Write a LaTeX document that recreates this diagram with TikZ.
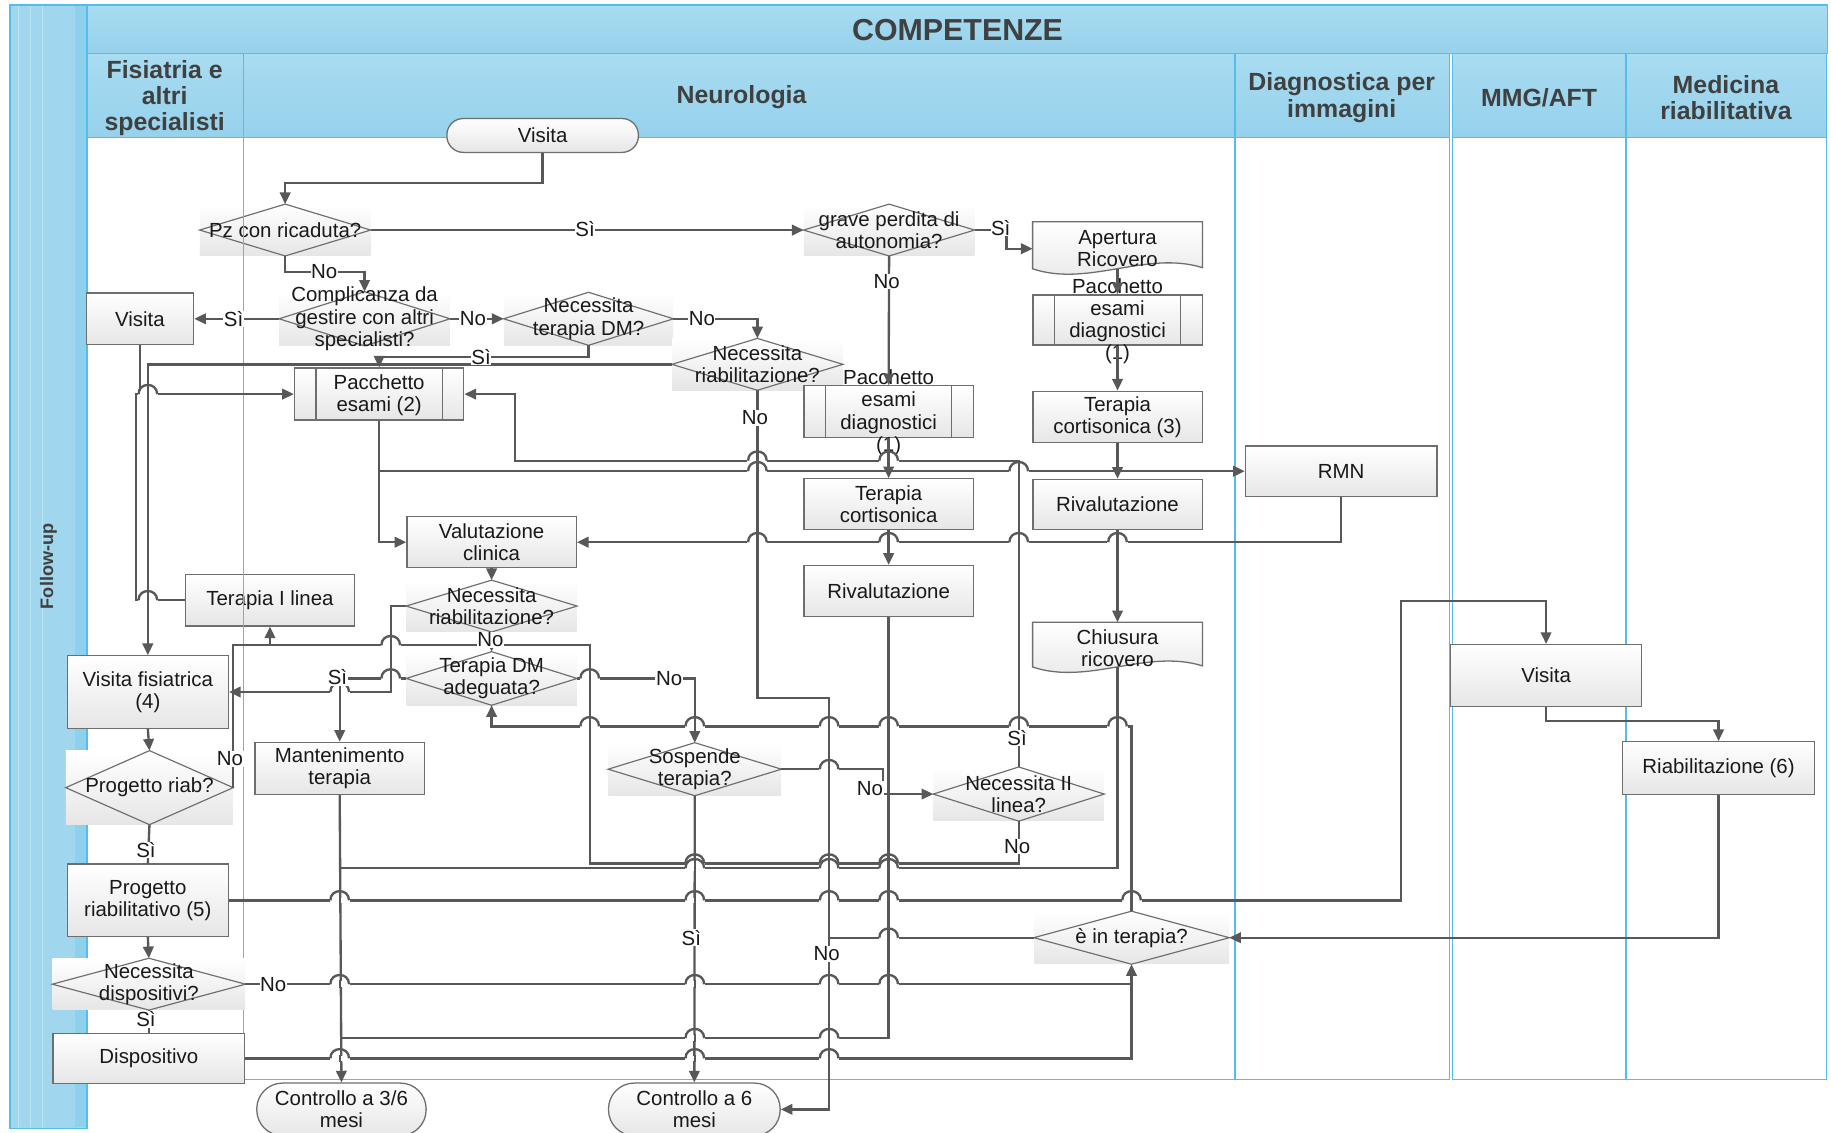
\documentclass[tikz,border=0pt]{standalone}
\usepackage{fontspec}
\setmainfont{Liberation Sans}
\usetikzlibrary{arrows.meta,calc}

\definecolor{hdrtop}{RGB}{168,220,241}
\definecolor{hdrbot}{RGB}{150,209,236}
\definecolor{stripfill}{RGB}{160,215,238}
\definecolor{laneline}{RGB}{85,190,232}
\definecolor{hdrtext}{RGB}{64,64,64}
\definecolor{nodeline}{RGB}{110,110,110}
\definecolor{nodelow}{RGB}{230,230,230}
\definecolor{conncol}{RGB}{88,88,88}
\definecolor{txt}{RGB}{25,25,25}

\newcommand\nf{\fontsize{17.5}{19}\selectfont}
\newcommand\hf{\fontsize{21.3}{22.5}\selectfont\bfseries}

\tikzset{
  box/.style={draw=nodeline, line width=1.1pt, top color=white, bottom color=nodelow,
              inner sep=0pt, align=center, font=\nf, text=txt},
  term/.style={box, rounded corners=#1},
  dbg/.style={top color=white, bottom color=nodelow, inner sep=0pt, draw=none},
  dedge/.style={draw=nodeline, line width=1pt},
  ntext/.style={align=center, font=\nf, text=txt, inner sep=0pt},
  conn/.style={draw=conncol, line width=2pt},
  arr/.style={conn, -{Triangle[length=10pt,width=9pt]}},
  lbl/.style={fill=white, inner sep=0.5pt, font=\nf, text=txt},
  lane/.style={draw=laneline, line width=1.2pt},
  hdr/.style={lane, top color=hdrtop, bottom color=hdrbot},
  hdrlbl/.style={align=center, font=\hf, text=hdrtext},
}

% decision: name, x, y, width, height, text
\newcommand\mkdecision[6]{%
  \node[dbg, minimum width=#4, minimum height=#5] (#1) at (#2,#3) {};
  \draw[dedge] (#1.west) -- (#1.north) -- (#1.east) -- (#1.south) -- cycle;
  \node[ntext] (#1-t) at (#1) {#6};
}
% predefined process: name, x, y, width, height, text
\newcommand\mkprocess[6]{%
  \node[box, minimum width=#4, minimum height=#5] (#1) at (#2,#3) {};
  \draw[dedge, line width=1.1pt] ([xshift=19pt]#1.north west) -- ([xshift=19pt]#1.south west)
               ([xshift=-19pt]#1.north east) -- ([xshift=-19pt]#1.south east);
  \node[ntext] (#1-t) at ([yshift=-1pt]#1.center) {#6};
}
% document shape with wavy bottom: name, x, y, width, height, text
\newcommand\mkdoc[6]{%
  \node[minimum width=#4, minimum height=#5, inner sep=0pt] (#1) at (#2,#3) {};
  \path[box] (#1.north west) -- (#1.north east) -- ([yshift=1pt]#1.south east)
     .. controls ([xshift=-48pt,yshift=16pt]#1.south east) and ([xshift=48pt,yshift=-16pt]#1.south west) .. (#1.south west) -- cycle;
  \node[ntext] (#1-t) at ([yshift=-3pt]#1.center) {#6};
}
% line jump of a horizontal connector over a vertical one at (x,y)
\newcommand\linehop[2]{%
  \fill[white] (#1-8.6,#2-2.3) rectangle (#1+8.6,#2+2.3);
  \draw[conn] (#1,#2-3.2) -- (#1,#2+3.2);
  \draw[conn] (#1-8,#2) .. controls (#1-8,#2-10.5) and (#1+8,#2-10.5) .. (#1+8,#2);
}

\begin{document}
\begin{tikzpicture}[x=1pt,y=-1pt]
\useasboundingbox (0,0) rectangle (1568,970);
\fill[white] (0,0) rectangle (1568,970);

% ---------- swimlane frame
\fill[stripfill] (8.5,4.3) rectangle (74.5,966.3);
\foreach \sx in {16,26,36}
  \draw[white, opacity=0.3, line width=0.8pt] (\sx,5) -- (\sx,965.5);
\fill[laneline!25!stripfill] (64.5,5) rectangle (74.5,965.5);
\draw[lane] (8.5,4.3) rectangle (74.5,966.3);
\node[rotate=90, font=\fontsize{15.5}{17}\selectfont\bfseries, text=hdrtext] (followup) at (41.5,485) {Follow-up};

\path[hdr] (74.5,4.3) rectangle (1565,45.7);
\node[font=\fontsize{26}{28}\selectfont\bfseries, text=hdrtext] (comp) at (820,25.5) {COMPETENZE};

\path[hdr] (74.5,45.7) rectangle (208.4,118);
\path[hdr] (208.4,45.7) rectangle (1057.6,118);
\path[hdr] (1057.6,45.7) rectangle (1241.3,118);
\path[hdr] (1243.7,45.7) rectangle (1392.3,118);
\path[hdr] (1392.3,45.7) rectangle (1564.3,118);

\draw[lane, fill=white] (74.5,118) rectangle (208.4,924.3);
\draw[lane, fill=white] (208.4,118) rectangle (1057.6,924.3);
\draw[lane, fill=white] (1057.6,118) rectangle (1241.3,924.3);
\draw[lane, fill=white] (1243.7,118) rectangle (1392.3,924.3);
\draw[lane, fill=white] (1392.3,118) rectangle (1564.3,924.3);

\node[hdrlbl] (hFis) at (141,84) {Fisiatria e\\altri\\specialisti};
\node[hdrlbl] (hNeuro) at (635,83.5) {Neurologia};
\node[hdrlbl] (hDiag) at (1149,83.5) {Diagnostica per\\immagini};
\node[hdrlbl] (hMMG) at (1318,83.5) {MMG/AFT};
\node[hdrlbl] (hRiab) at (1478,83.5) {Medicina\\riabilitativa};

% ---------- nodes
\node[term=14pt, minimum width=164, minimum height=29] (visitaTop) at (464.7,116) {Visita};
\mkdecision{dRic}{244.2}{197}{146}{44}{Pz con ricaduta?}
\mkdecision{dGrave}{761.4}{197}{146}{44}{grave perdita di\\autonomia?}
\mkdoc{apertura}{957}{210}{145}{40}{Apertura\\Ricovero}
\mkprocess{paccR}{957}{274}{145}{43}{Pacchetto\\esami\\diagnostici\\(1)}
\node[box, minimum width=145, minimum height=44] (cort3) at (957,357) {Terapia\\cortisonica (3)};
\node[box, minimum width=145, minimum height=43] (rivalR) at (957,432) {Rivalutazione};
\mkdoc{chiusura}{957}{552}{145}{38}{Chiusura\\ricovero}
\node[box, minimum width=164, minimum height=43] (rmn) at (1148.5,403.5) {RMN};
\node[box, minimum width=164, minimum height=53] (visitaMMG) at (1324,578.5) {Visita};
\node[box, minimum width=164, minimum height=45] (riab6) at (1471.7,657.7) {Riabilitazione (6)};
\mkdecision{dTerapia}{969}{803}{167}{45}{è in terapia?}
\mkdecision{dIIlinea}{872.4}{680}{146}{46}{Necessita II\\linea?}
\mkdecision{dSospende}{595}{658.7}{148}{45}{Sospende\\terapia?}
\node[term=22pt, minimum width=147, minimum height=45] (ctrl6) at (594.6,950) {Controllo a 6\\mesi};
\node[term=22pt, minimum width=145, minimum height=45] (ctrl36) at (292.4,950) {Controllo a 3/6\\mesi};
\node[box, minimum width=145, minimum height=44.5] (manten) at (290.9,658) {Mantenimento\\terapia};
\mkdecision{dDMadeg}{421}{581}{146}{45.5}{Terapia DM\\adeguata?}
\mkdecision{dRiab2}{421}{519}{146}{44}{Necessita\\riabilitazione?}
\node[box, minimum width=145, minimum height=43.5] (valut) at (421,464.3) {Valutazione\\clinica};
\node[box, minimum width=145, minimum height=44] (terI) at (231.2,514) {Terapia I linea};
\node[box, minimum width=138, minimum height=62] (visitaFis) at (126.6,592.6) {Visita fisiatrica\\(4)};
\mkdecision{dProg}{128}{674.5}{143}{63}{Progetto riab?}
\node[box, minimum width=138, minimum height=62] (progRiab) at (126.6,771) {Progetto\\riabilitativo (5)};
\mkdecision{dDisp}{127.5}{842.8}{165}{44}{Necessita\\dispositivi?}
\node[box, minimum width=164, minimum height=43] (disp) at (127.5,906.3) {Dispositivo};
\node[box, minimum width=92, minimum height=44] (visitaL) at (119.8,273) {Visita};
\mkdecision{dCompl}{312.2}{273}{146}{46}{Complicanza da\\gestire con altri\\specialisti?}
\mkdecision{dTerDM}{504}{273}{145}{45}{Necessita\\terapia DM?}
\mkdecision{dRiab1}{648.6}{312}{146}{44}{Necessita\\riabilitazione?}
\mkprocess{pacc2}{324.7}{337.5}{145}{44.5}{Pacchetto\\esami (2)}
\mkprocess{paccM}{761}{352.4}{145}{44}{Pacchetto\\esami\\diagnostici\\(1)}
\node[box, minimum width=145, minimum height=43.5] (cortM) at (761,431.8) {Terapia\\cortisonica};
\node[box, minimum width=145, minimum height=43.5] (rivalM) at (761,506) {Rivalutazione};

% lane divider shown over the shapes
\draw[lane] (208.4,118) -- (208.4,815);

% ---------- connectors
\draw[arr] (visitaTop.south) -- ++(0,25.5) -| (dRic.north);
\draw[arr] (dRic.east) -- (dGrave.west);
\draw[arr] (dRic.south) -- ++(0,13.5) -| (dCompl.north);
\draw[arr] (dGrave.east) -- (862,197) |- ([yshift=-3pt]apertura.west);
\draw[arr] (dGrave.south) -- (paccM.north);
\draw[arr] (apertura.south) -- (paccR.north);
\draw[arr] (paccR.south) -- (cort3.north);
\draw[arr] (cort3.south) -- (rivalR.north);
\draw[arr] (rivalR.south) -- (chiusura.north);
\draw[arr] (dCompl.west) -- (visitaL.east);
\draw[arr] (dCompl.east) -- (dTerDM.west);
\draw[arr] (dTerDM.east) -| (dRiab1.north);
\draw[arr] (dTerDM.south) -- ++(0,10) -| (pacc2.north);
\draw[arr] (dRiab1.west) -| (visitaFis.north);
\draw[arr] (visitaL.south) |- (pacc2.west);
\draw[conn] (terI.west) -| (116.7,337.5) -- (119.8,337.5);
\draw[arr] (pacc2.south) |- (valut.west);
\draw[arr] (pacc2.south |- rmn.west) -- (rmn.west);
\draw[arr] (rmn.south) |- (valut.east);
\draw[arr] (dIIlinea.north) |- (440.8,394.5) |- (pacc2.east);
\draw[arr] (paccM.south) -- (cortM.north);
\draw[arr] (cortM.south) -- (rivalM.north);
\draw[conn] (rivalM.south) |- (292.4,889);
\draw[conn] (chiusura.south) |- (292.4,743.5);
\draw[arr] (dIIlinea.south) |- (505,739.5) |- (231.2,552.5) -- (terI.south);
\draw[conn] (dProg.east) |- (231.2,552.5);
\draw[arr] (dRiab2.west) -- (334.6,519) |- (visitaFis.east);
\draw[arr] (valut.south) -- (dRiab2.north);
\draw[arr] (dRiab2.south) -- (dDMadeg.north);
\draw[arr] (dDMadeg.west) -| (manten.north);
\draw[arr] (dDMadeg.east) -| (dSospende.north);
\draw[arr] (dTerapia.north) |- (421,622) -- (dDMadeg.south);
\draw[arr] (dRiab1.south) |- (710,598) |- (ctrl6.east);
\draw[arr] (dSospende.east) -- (756,658.7) |- (dIIlinea.west);
\draw[arr] (dSospende.south) -- (ctrl6.north);
\draw[conn] (dTerapia.west) -- (710,803);
\draw[arr] (manten.south) -- (ctrl36.north);
\draw[arr] (visitaFis.south) -- (dProg.north);
\draw[conn] (dProg.south) -- (progRiab.north);
\draw[arr] (progRiab.south) -- (dDisp.north);
\draw[conn] (dDisp.south) -- (disp.north);
\draw[arr] (progRiab.east) -| (1200,514.5) -| (visitaMMG.north);
\draw[arr] (visitaMMG.south) -- ++(0,12) -| (riab6.north);
\draw[arr] (riab6.south) |- (dTerapia.east);
\draw[arr] (dDisp.east) -| (dTerapia.south);
\draw[conn] (disp.east) -| (969,842.8);

% ---------- line jumps
\linehop{126.6}{337.5}
\linehop{126.6}{514}
\linehop{648.6}{394.5}
\linehop{761}{394.5}
\linehop{648.6}{403.5}
\linehop{872.4}{403.5}
\foreach \jx in {648.6,761,872.4,957} {\linehop{\jx}{464.3}}
\linehop{334.6}{552.5}
\linehop{334.6}{581}
\linehop{505}{581}
\linehop{290.9}{592.6}
\foreach \jx in {505,595,710,761,872.4,957} {\linehop{\jx}{622}}
\linehop{710}{658.7}
\foreach \jx in {595,710,761} {\linehop{\jx}{739.5}}
\foreach \jx in {595,710,761} {\linehop{\jx}{743.5}}
\foreach \jx in {290.9,595,710,761,969} {\linehop{\jx}{771}}
\linehop{761}{803}
\foreach \jx in {290.9,595,710,761} {\linehop{\jx}{842.8}}
\foreach \jx in {595,710} {\linehop{\jx}{889}}
\foreach \jx in {290.9,595,710} {\linehop{\jx}{906.3}}

% ---------- branch labels
\node[lbl] (lSi1) at (501,196.5) {Sì};
\node[lbl] (lSi2) at (857,195) {Sì};
\node[lbl] (lNo1) at (277.7,232.7) {No};
\node[lbl] (lNo2) at (759.4,241) {No};
\node[lbl] (lSi3) at (200,273) {Sì};
\node[lbl] (lNo3) at (405,273) {No};
\node[lbl] (lNo4) at (601,273) {No};
\node[lbl] (lSi4) at (412,305.5) {Sì};
\node[lbl] (lNo5) at (646.5,358) {No};
\node[lbl] (lSi5) at (871,632) {Sì};
\node[lbl] (lNo6) at (420,548) {No};
\node[lbl] (lSi6) at (289,580) {Sì};
\node[lbl] (lNo7) at (573,581) {No};
\node[lbl] (lNo8) at (197,650) {No};
\node[lbl] (lNo9) at (745,675) {No};
\node[lbl] (lNo10) at (871,725) {No};
\node[lbl] (lSi7) at (125,728) {Sì};
\node[lbl] (lSi8) at (592,803) {Sì};
\node[lbl] (lNo11) at (708,817) {No};
\node[lbl] (lNo12) at (234,842.8) {No};
\node[lbl] (lSi9) at (125,873) {Sì};
\end{tikzpicture}
\end{document}
